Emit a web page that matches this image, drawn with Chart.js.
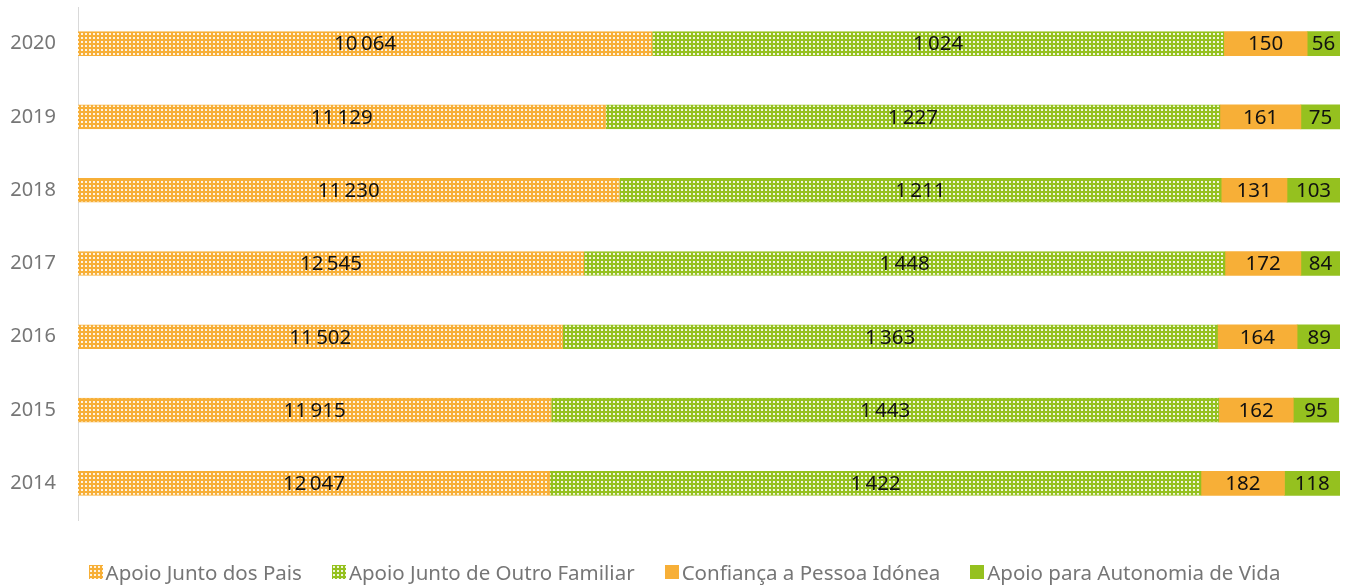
<!DOCTYPE html>
<html lang="pt">
<head>
<meta charset="utf-8">
<title>Medidas de apoio 2014-2020</title>
<script src="https://cdn.jsdelivr.net/npm/chart.js@4.4.1/dist/chart.umd.min.js"></script>
<style>
  html, body { margin: 0; padding: 0; background: #fff; }
  #wrap { position: relative; width: 1349px; height: 586px; }
  #legenda {
    position: absolute; left: 0; top: 558px; width: 1349px; box-sizing: border-box; padding-left: 20px;
    display: flex; justify-content: center; align-items: center;
    font-family: "Noto Sans", sans-serif; font-size: 20.5px; color: #767676;
  }
  .item { display: flex; align-items: center; margin: 0 15px; white-space: nowrap; }
  .caixa { width: 14px; height: 14px; margin-right: 3px; }
</style>
</head>
<body>
<div id="wrap">
  <canvas id="grafico" width="1349" height="586"></canvas>
  <div id="legenda"></div>
</div>
<script>
// anos (de baixo para cima)
const anos = ["2014", "2015", "2016", "2017", "2018", "2019", "2020"];

// numero de medidas (etiquetas)
const apoioPais      = [12047, 11915, 11502, 12545, 11230, 11129, 10064];
const apoioFamiliar  = [1422, 1443, 1363, 1448, 1211, 1227, 1024];
const pessoaIdonea   = [182, 162, 164, 172, 131, 161, 150];
const autonomiaVida  = [118, 95, 89, 84, 103, 75, 56];

// comprimento de cada segmento (% da barra)
const partePais      = [37.4, 37.5, 38.4, 40.1, 42.9, 41.8, 45.5];
const parteFamiliar  = [51.6, 52.9, 51.9, 50.8, 47.7, 48.7, 45.3];
const parteIdonea    = [6.6, 5.9, 6.3, 6.0, 5.2, 6.4, 6.6];
const parteAutonomia = [4.4, 3.6, 3.5, 3.1, 4.2, 3.1, 2.6];

const nomes = ["Apoio Junto dos Pais", "Apoio Junto de Outro Familiar", "Confiança a Pessoa Idónea", "Apoio para Autonomia de Vida"];

const laranja = "#F7AF37";
const verde = "#95C11F";

// padrao pontilhado branco
function tile(cor) {
    const c = document.createElement("canvas");
    c.width = 4; c.height = 4;
    const g = c.getContext("2d");
    g.fillStyle = cor;
    g.fillRect(0, 0, 4, 4);
    g.fillStyle = "rgba(255,255,255,0.85)";
    g.fillRect(1, 1, 2, 2);
    return c;
}
function padrao(cor) {
    return document.createElement("canvas").getContext("2d").createPattern(tile(cor), "repeat");
}

const fmt = v => String(v).replace(/\B(?=(\d{3})+(?!\d))/g, "\u202F");

const etiquetas = {
    id: "etiquetas",
    afterDatasetsDraw(chart) {
        const ctx = chart.ctx;
        ctx.save();
        ctx.font = '20.5px "Noto Sans"';
        ctx.fillStyle = "#111";
        ctx.textAlign = "center";
        ctx.textBaseline = "middle";
        chart.data.datasets.forEach((ds, i) => {
            chart.getDatasetMeta(i).data.forEach((bar, j) => {
                ctx.fillText(fmt(ds.contagens[j]), (bar.x + bar.base) / 2, bar.y + 1);
            });
        });
        ctx.restore();
    }
};

const series = [
    { label: nomes[0], data: partePais, contagens: apoioPais, fundo: padrao(laranja), cor: laranja, tile: tile(laranja) },
    { label: nomes[1], data: parteFamiliar, contagens: apoioFamiliar, fundo: padrao(verde), cor: verde, tile: tile(verde) },
    { label: nomes[2], data: parteIdonea, contagens: pessoaIdonea, fundo: laranja, cor: laranja, tile: null },
    { label: nomes[3], data: parteAutonomia, contagens: autonomiaVida, fundo: verde, cor: verde, tile: null }
];

new Chart(document.getElementById("grafico"), {
    type: "bar",
    data: {
        labels: anos,
        datasets: series.map(s => ({
            label: s.label,
            data: s.data,
            contagens: s.contagens,
            backgroundColor: s.fundo,
            borderColor: s.cor,
            borderWidth: s.tile ? 1 : 0,
            barThickness: 24
        }))
    },
    options: {
        indexAxis: "y",
        responsive: false,
        animation: false,
        layout: { padding: { top: 7, left: 0, right: 9, bottom: 66 } },
        plugins: { legend: { display: false }, tooltip: { enabled: false } },
        scales: {
            x: { stacked: true, min: 0, max: 100, display: false },
            y: {
                stacked: true,
                reverse: true,
                grid: { display: false, drawTicks: false },
                border: { color: "#d9d9d9", width: 1 },
                ticks: { color: "#767676", font: { family: "Noto Sans", size: 20 }, padding: 22 },
                afterFit(scale) {
                    scale.width = 78;
                    scale.paddingTop = 0;
                    scale.paddingBottom = 0;
                }
            }
        }
    },
    plugins: [etiquetas]
});

// legenda
const legenda = document.getElementById("legenda");
series.forEach(s => {
    const item = document.createElement("div");
    item.className = "item";
    const caixa = document.createElement("span");
    caixa.className = "caixa";
    if (s.tile) caixa.style.background = "url(" + s.tile.toDataURL() + ")";
    else caixa.style.background = s.cor;
    const txt = document.createElement("span");
    txt.textContent = s.label;
    item.appendChild(caixa);
    item.appendChild(txt);
    legenda.appendChild(item);
});
</script>
</body>
</html>
